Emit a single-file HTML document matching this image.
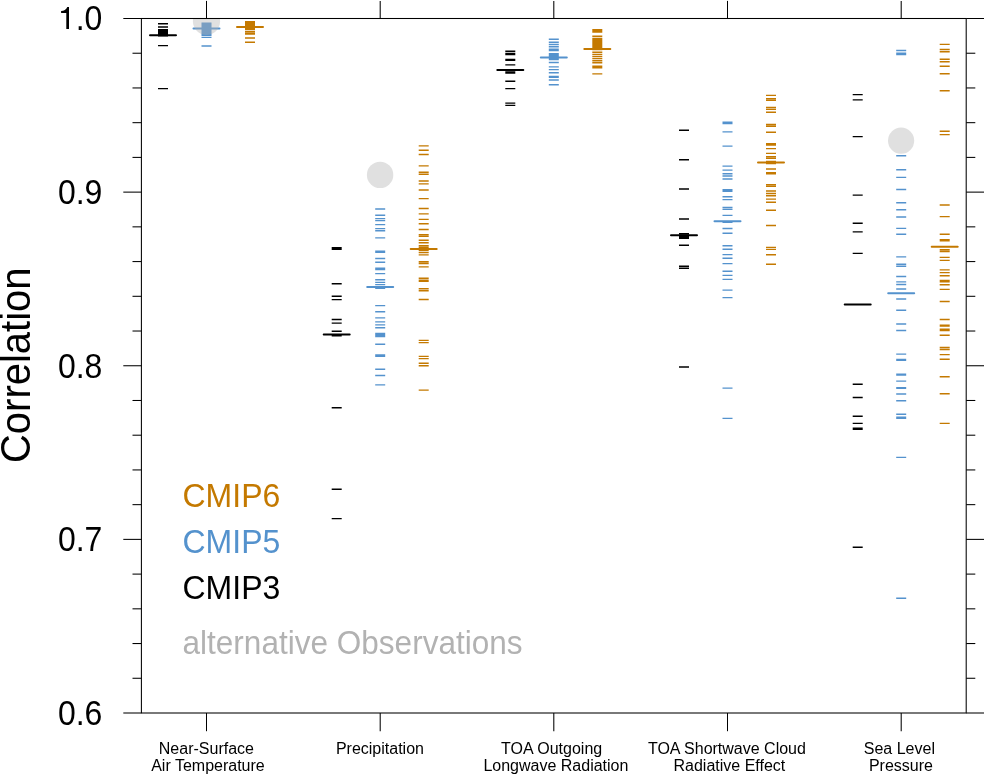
<!DOCTYPE html>
<html><head><meta charset="utf-8"><title>Correlation</title>
<style>
html,body{margin:0;padding:0;background:#fff;}
body{width:984px;height:775px;overflow:hidden;font-family:"Liberation Sans", sans-serif;}
svg{display:block;will-change:transform;}
text{font-family:"Liberation Sans", sans-serif;}
</style></head><body>
<svg width="984" height="775" viewBox="0 0 984 775">
<defs><clipPath id="pc"><rect x="141.4" y="18.5" width="824.8" height="694.5"/></clipPath></defs>
<path d="M158 23.7h10M158 27h10M158 29.7h10M158 31.2h10M158 32.7h10M158 34.2h10M158 35.7h10M158 45.6h10M158 88.6h10M331.7 247.7h10M331.7 249.3h10M331.7 283.7h10M331.7 296.2h10M331.7 299.6h10M331.7 319.5h10M331.7 323.1h10M331.7 331.2h10M331.7 335.7h10M331.7 407.7h10M331.7 489.3h10M331.7 518.6h10M505.3 51.3h10M505.3 53.5h10M505.3 54.6h10M505.3 59.5h10M505.3 60.4h10M505.3 64.9h10M505.3 71.9h10M505.3 73h10M505.3 81.2h10M505.3 88.6h10M505.3 103.1h10M505.3 105.4h10M679 130.2h10M679 159.7h10M679 189h10M679 219h10M679 233.8h10M679 235.5h10M679 237h10M679 238.3h10M679 245.3h10M679 266.2h10M679 268.3h10M679 367h10M852.7 94.6h10M852.7 99.9h10M852.7 136.6h10M852.7 195.1h10M852.7 223.2h10M852.7 231.9h10M852.7 253.4h10M852.7 384.2h10M852.7 397.5h10M852.7 416.2h10M852.7 423.4h10M852.7 428.2h10M852.7 429.4h10M852.7 547.2h10" stroke="#000" stroke-width="1.4" fill="none"/>
<path d="M150 35.2h26M323.7 334.6h26M497.3 69.9h26M671 235.2h26M844.7 304.5h26" stroke="#000" stroke-width="2.0" fill="none" stroke-linecap="round"/>
<path d="M201.5 23.3h10M201.5 24.4h10M201.5 25.5h10M201.5 26.6h10M201.5 27.7h10M201.5 28.8h10M201.5 29.9h10M201.5 31h10M201.5 32.1h10M201.5 33.2h10M201.5 34.3h10M201.5 35.4h10M201.5 37.4h10M201.5 46h10M375.2 209h10M375.2 215.2h10M375.2 218.6h10M375.2 220.6h10M375.2 224.6h10M375.2 228.6h10M375.2 230.8h10M375.2 237.9h10M375.2 251.2h10M375.2 252.4h10M375.2 258.5h10M375.2 262.2h10M375.2 268.3h10M375.2 269.6h10M375.2 273.6h10M375.2 279.8h10M375.2 282.4h10M375.2 284.6h10M375.2 288.2h10M375.2 305.6h10M375.2 311.8h10M375.2 317.9h10M375.2 321.9h10M375.2 324.9h10M375.2 327.7h10M375.2 333.5h10M375.2 335h10M375.2 336.5h10M375.2 344.3h10M375.2 355h10M375.2 356.2h10M375.2 369.3h10M375.2 375.5h10M375.2 384.9h10M548.8 39.3h10M548.8 42.2h10M548.8 44.5h10M548.8 46.8h10M548.8 49.2h10M548.8 50.5h10M548.8 53.8h10M548.8 55h10M548.8 56.5h10M548.8 58h10M548.8 59.5h10M548.8 62.5h10M548.8 66.9h10M548.8 69.6h10M548.8 72.7h10M548.8 76.5h10M548.8 77.2h10M548.8 80h10M548.8 84.7h10M722.5 122.3h10M722.5 123.5h10M722.5 131.9h10M722.5 146.1h10M722.5 166.1h10M722.5 170.1h10M722.5 173.7h10M722.5 176h10M722.5 179h10M722.5 189.7h10M722.5 191.2h10M722.5 196.8h10M722.5 199.6h10M722.5 207.5h10M722.5 209.4h10M722.5 215.4h10M722.5 222.2h10M722.5 228.5h10M722.5 233.2h10M722.5 245.8h10M722.5 249.2h10M722.5 254.6h10M722.5 258.3h10M722.5 263.6h10M722.5 271.2h10M722.5 275.4h10M722.5 279.4h10M722.5 290.1h10M722.5 297.6h10M722.5 388.1h10M722.5 418.4h10M896.2 50.5h10M896.2 53.2h10M896.2 54.6h10M896.2 155.7h10M896.2 169.8h10M896.2 177.4h10M896.2 189.5h10M896.2 202.8h10M896.2 209.8h10M896.2 217h10M896.2 228.4h10M896.2 234.2h10M896.2 256.9h10M896.2 264.3h10M896.2 266.2h10M896.2 276.5h10M896.2 281.9h10M896.2 284.5h10M896.2 289h10M896.2 299h10M896.2 310.3h10M896.2 324h10M896.2 330.5h10M896.2 354.1h10M896.2 359.5h10M896.2 360.3h10M896.2 374.2h10M896.2 375h10M896.2 381.1h10M896.2 387.6h10M896.2 388.3h10M896.2 394h10M896.2 400.8h10M896.2 414.3h10M896.2 417.3h10M896.2 418.4h10M896.2 457.4h10M896.2 598.2h10" stroke="rgb(84,146,205)" stroke-width="1.4" fill="none"/>
<path d="M193.5 28.55h26M367.2 286.9h26M540.8 57.5h26M714.5 221.3h26M888.2 293.2h26" stroke="rgb(84,146,205)" stroke-width="2.0" fill="none" stroke-linecap="round"/>
<path d="M245 21.8h10M245 23.3h10M245 24.8h10M245 26.3h10M245 27.8h10M245 29.3h10M245 31.5h10M245 33.2h10M245 34.1h10M245 38h10M245 42.2h10M418.7 145.9h10M418.7 150.3h10M418.7 154.5h10M418.7 165.9h10M418.7 172.3h10M418.7 174.3h10M418.7 181h10M418.7 183.9h10M418.7 190h10M418.7 198.6h10M418.7 208.5h10M418.7 213.9h10M418.7 219.4h10M418.7 223.8h10M418.7 229.5h10M418.7 234.7h10M418.7 236.4h10M418.7 240.2h10M418.7 242.8h10M418.7 245.6h10M418.7 247.2h10M418.7 250.2h10M418.7 252.5h10M418.7 254.9h10M418.7 261.8h10M418.7 263.5h10M418.7 266.9h10M418.7 278.2h10M418.7 280.3h10M418.7 281.2h10M418.7 288.7h10M418.7 290.8h10M418.7 299.5h10M418.7 340.4h10M418.7 342.6h10M418.7 356.4h10M418.7 358.6h10M418.7 363.2h10M418.7 365.8h10M418.7 390.1h10M592.3 29.8h10M592.3 30.9h10M592.3 32h10M592.3 36.3h10M592.3 38.5h10M592.3 40h10M592.3 41.3h10M592.3 42.4h10M592.3 43.5h10M592.3 45h10M592.3 46.5h10M592.3 48h10M592.3 49.5h10M592.3 52.3h10M592.3 54.4h10M592.3 56.5h10M592.3 58.6h10M592.3 60.7h10M592.3 62.8h10M592.3 66.2h10M592.3 67.8h10M592.3 73.9h10M766 95.4h10M766 98.7h10M766 100.4h10M766 107.4h10M766 109.3h10M766 112.3h10M766 124.5h10M766 126.3h10M766 132.3h10M766 143.6h10M766 145h10M766 148.6h10M766 153.4h10M766 156.6h10M766 158.3h10M766 161.5h10M766 163.5h10M766 169h10M766 172.6h10M766 173.8h10M766 184.6h10M766 186.2h10M766 191h10M766 193.5h10M766 195.7h10M766 199.1h10M766 202.2h10M766 210.2h10M766 225.5h10M766 247.4h10M766 249.4h10M766 254.8h10M766 264.3h10M939.7 44.4h10M939.7 49.5h10M939.7 51.8h10M939.7 59.3h10M939.7 61.7h10M939.7 66.2h10M939.7 73.7h10M939.7 90.7h10M939.7 131.3h10M939.7 134.6h10M939.7 205h10M939.7 216.6h10M939.7 234.2h10M939.7 239.6h10M939.7 240.9h10M939.7 249.8h10M939.7 251.5h10M939.7 257.4h10M939.7 260.4h10M939.7 269.9h10M939.7 272.6h10M939.7 275.7h10M939.7 280.5h10M939.7 281.8h10M939.7 284.8h10M939.7 289.4h10M939.7 301.5h10M939.7 319.5h10M939.7 325.3h10M939.7 326h10M939.7 329.2h10M939.7 330.5h10M939.7 335.3h10M939.7 347.5h10M939.7 349.5h10M939.7 354.6h10M939.7 359.3h10M939.7 376.7h10M939.7 393.7h10M939.7 423.4h10" stroke="rgb(196,121,0)" stroke-width="1.4" fill="none"/>
<path d="M237 27h26M410.7 248.9h26M584.3 49.1h26M758 162.6h26M931.7 246.8h26" stroke="rgb(196,121,0)" stroke-width="2.0" fill="none" stroke-linecap="round"/>
<g clip-path="url(#pc)" fill="rgb(178,178,178)" fill-opacity="0.4">
<circle cx="206.5" cy="21.3" r="13.6"/>
<circle cx="380.1" cy="174.9" r="13.2"/>
<circle cx="901.1" cy="140.7" r="13.1"/>
</g>
<g stroke="#000" stroke-width="1.05" fill="none">
<rect x="141.4" y="18.5" width="824.8" height="694.5"/>
<line x1="123.3" y1="18.5" x2="141.4" y2="18.5"/>
<line x1="966.2" y1="18.5" x2="984.5" y2="18.5"/>
<line x1="123.3" y1="192.12" x2="141.4" y2="192.12"/>
<line x1="966.2" y1="192.12" x2="984.5" y2="192.12"/>
<line x1="123.3" y1="365.75" x2="141.4" y2="365.75"/>
<line x1="966.2" y1="365.75" x2="984.5" y2="365.75"/>
<line x1="123.3" y1="539.38" x2="141.4" y2="539.38"/>
<line x1="966.2" y1="539.38" x2="984.5" y2="539.38"/>
<line x1="123.3" y1="713" x2="141.4" y2="713"/>
<line x1="966.2" y1="713" x2="984.5" y2="713"/>
<line x1="132.5" y1="53.23" x2="141.4" y2="53.23"/>
<line x1="966.2" y1="53.23" x2="975.3" y2="53.23"/>
<line x1="132.5" y1="87.95" x2="141.4" y2="87.95"/>
<line x1="966.2" y1="87.95" x2="975.3" y2="87.95"/>
<line x1="132.5" y1="122.67" x2="141.4" y2="122.67"/>
<line x1="966.2" y1="122.67" x2="975.3" y2="122.67"/>
<line x1="132.5" y1="157.4" x2="141.4" y2="157.4"/>
<line x1="966.2" y1="157.4" x2="975.3" y2="157.4"/>
<line x1="132.5" y1="226.85" x2="141.4" y2="226.85"/>
<line x1="966.2" y1="226.85" x2="975.3" y2="226.85"/>
<line x1="132.5" y1="261.57" x2="141.4" y2="261.57"/>
<line x1="966.2" y1="261.57" x2="975.3" y2="261.57"/>
<line x1="132.5" y1="296.3" x2="141.4" y2="296.3"/>
<line x1="966.2" y1="296.3" x2="975.3" y2="296.3"/>
<line x1="132.5" y1="331.02" x2="141.4" y2="331.02"/>
<line x1="966.2" y1="331.02" x2="975.3" y2="331.02"/>
<line x1="132.5" y1="400.48" x2="141.4" y2="400.48"/>
<line x1="966.2" y1="400.48" x2="975.3" y2="400.48"/>
<line x1="132.5" y1="435.2" x2="141.4" y2="435.2"/>
<line x1="966.2" y1="435.2" x2="975.3" y2="435.2"/>
<line x1="132.5" y1="469.93" x2="141.4" y2="469.93"/>
<line x1="966.2" y1="469.93" x2="975.3" y2="469.93"/>
<line x1="132.5" y1="504.65" x2="141.4" y2="504.65"/>
<line x1="966.2" y1="504.65" x2="975.3" y2="504.65"/>
<line x1="132.5" y1="574.1" x2="141.4" y2="574.1"/>
<line x1="966.2" y1="574.1" x2="975.3" y2="574.1"/>
<line x1="132.5" y1="608.83" x2="141.4" y2="608.83"/>
<line x1="966.2" y1="608.83" x2="975.3" y2="608.83"/>
<line x1="132.5" y1="643.55" x2="141.4" y2="643.55"/>
<line x1="966.2" y1="643.55" x2="975.3" y2="643.55"/>
<line x1="132.5" y1="678.27" x2="141.4" y2="678.27"/>
<line x1="966.2" y1="678.27" x2="975.3" y2="678.27"/>
<line x1="206.5" y1="0.9" x2="206.5" y2="18.5"/>
<line x1="206.5" y1="713" x2="206.5" y2="731.2"/>
<line x1="380.2" y1="0.9" x2="380.2" y2="18.5"/>
<line x1="380.2" y1="713" x2="380.2" y2="731.2"/>
<line x1="553.8" y1="0.9" x2="553.8" y2="18.5"/>
<line x1="553.8" y1="713" x2="553.8" y2="731.2"/>
<line x1="727.5" y1="0.9" x2="727.5" y2="18.5"/>
<line x1="727.5" y1="713" x2="727.5" y2="731.2"/>
<line x1="901.2" y1="0.9" x2="901.2" y2="18.5"/>
<line x1="901.2" y1="713" x2="901.2" y2="731.2"/>
</g>
<g font-size="32" text-anchor="end" fill="#000">
<text transform="translate(102.4,30.3) scale(1,1.07)">.0</text>
<text transform="translate(102.4,203.93) scale(1,1.07)">0.9</text>
<text transform="translate(102.4,377.55) scale(1,1.07)">0.8</text>
<text transform="translate(102.4,551.17) scale(1,1.07)">0.7</text>
<text transform="translate(102.4,724.8) scale(1,1.07)">0.6</text>
</g>
<path d="M69 6.9L69 28.9L66.3 28.9L66.3 12.9L61.1 12.9L61.1 11C64 11 66.2 9.6 67.3 6.9Z" fill="#000"/>
<text transform="translate(30.2,463) rotate(-90) scale(1,1.07)" font-size="40" fill="#000">Correlation</text>
<g font-size="16" fill="#000">
<text x="158.8" y="753.8">Near-Surface</text>
<text x="151.2" y="771.2">Air Temperature</text>
<text x="335.9" y="753.8">Precipitation</text>
<text x="501.1" y="753.8">TOA Outgoing</text>
<text x="483.4" y="771.2">Longwave Radiation</text>
<text x="647.9" y="753.8">TOA Shortwave Cloud</text>
<text x="673.5" y="771.2">Radiative Effect</text>
<text x="863.8" y="753.8">Sea Level</text>
<text x="868.9" y="771.2">Pressure</text>
</g>
<g font-size="32">
<text transform="translate(182.5,506.5) scale(1,1.05)" fill="rgb(196,121,0)">CMIP6</text>
<text transform="translate(182.5,552.5) scale(1,1.05)" fill="rgb(84,146,205)">CMIP5</text>
<text transform="translate(182.5,599.3) scale(1,1.05)" fill="#000">CMIP3</text>
<text transform="translate(182.5,654) scale(0.986,1.05)" fill="rgb(178,178,178)">alternative Observations</text>
</g>
</svg>
</body></html>
